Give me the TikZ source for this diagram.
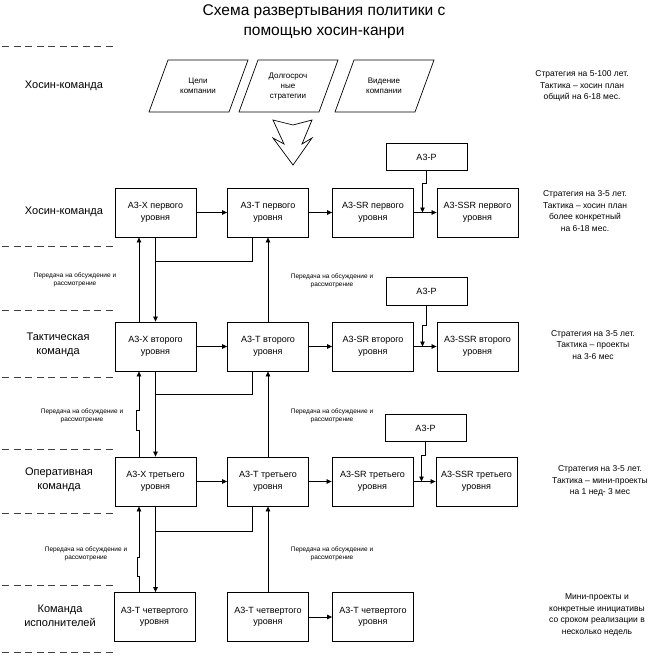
\documentclass[tikz,border=0pt]{standalone}
\usepackage{fontspec}
\setmainfont{Liberation Sans}
\usetikzlibrary{arrows.meta,calc}
\begin{document}
\begin{tikzpicture}[x=1pt,y=-1pt,
  box/.style={draw,line width=0.8pt,minimum width=81pt,minimum height=49pt,inner sep=0pt,align=center,font=\fontsize{9}{11.5}\selectfont},
  pbox/.style={box,minimum height=27.5pt},
  arr/.style={line width=0.7pt,-{Triangle[length=5pt,width=4.5pt]}},
  ln/.style={line width=0.7pt},
  sep/.style={line width=0.8pt,dash pattern=on 7pt off 4.5pt,black!75},
  lab/.style={align=center,font=\fontsize{11}{14}\selectfont},
  note/.style={align=center,font=\fontsize{8.5}{11.5}\selectfont},
  tinylab/.style={align=center,font=\fontsize{6.5}{8.5}\selectfont},
  ptext/.style={align=center,font=\fontsize{8}{10}\selectfont},
  shapeline/.style={line width=0.7pt}]
\useasboundingbox (0,0) rectangle (663,665);

% title
\node[align=center,font=\fontsize{15.5}{20}\selectfont] (title) at (324,22) {Схема развертывания политики с\\помощью хосин-канри};

% separators
\foreach \yy in {46,246,310,377,449,513,585,652}
  \draw[sep] (2,\yy) -- (115,\yy);

% left labels
\node[lab] (l0) at (64,86) {Хосин-команда};
\node[lab] (l1) at (64,212) {Хосин-команда};
\node[lab] (l2) at (58,345) {Тактическая\\команда};
\node[lab] (l3) at (59,480) {Оперативная\\команда};
\node[lab] (l4) at (60,616) {Команда\\исполнителей};

% right notes
\node[note] (n0) at (582,86) {Стратегия на 5-100 лет.\\Тактика – хосин план\\общий на 6-18 мес.};
\node[note] (n1) at (585,211) {Стратегия на 3-5 лет.\\Тактика – хосин план\\более конкретный\\на 6-18 мес.};
\node[note] (n2) at (593,345) {Стратегия на 3-5 лет.\\Тактика – проекты\\на 3-6 мес};
\node[note] (n3) at (600,481) {Стратегия на 3-5 лет.\\Тактика – мини-проекты\\на 1 нед- 3 мес};
\node[note] (n4) at (597,615) {Мини-проекты и\\конкретные инициативы\\со сроком реализации в\\несколько недель};

% small labels
\node[tinylab] (s1) at (75,280) {Передача на обсуждение и\\рассмотрение};
\node[tinylab] (s2) at (82,416) {Передача на обсуждение и\\рассмотрение};
\node[tinylab] (s3) at (86,554) {Передача на обсуждение и\\рассмотрение};
\node[tinylab] (m1) at (332,281) {Передача на обсуждение и\\рассмотрение};
\node[tinylab] (m2) at (332,416) {Передача на обсуждение и\\рассмотрение};
\node[tinylab] (m3) at (332,554) {Передача на обсуждение и\\рассмотрение};

% parallelograms
\draw[shapeline] (149,112) -- (168,60) -- (248,60) -- (229,112) -- cycle;
\draw[shapeline] (239,112) -- (258,60) -- (338,60) -- (319,112) -- cycle;
\draw[shapeline] (335,112) -- (354,60) -- (434,60) -- (415,112) -- cycle;
\node[ptext] (g1) at (198,86) {Цели\\компании};
\node[ptext] (g2) at (288,87) {Долгосроч\\ные\\стратегии};
\node[ptext] (g3) at (384,86) {Видение\\компании};

% big arrow
\draw[shapeline] (273,120) -- (284,144) -- (273,138) -- (293,165) -- (312,138) -- (302,144) -- (312,120) -- (293,125) -- cycle;

% boxes
\node[box] (x1) at (155.5,212.5) {А3-Х первого\\уровня};
\node[box] (t1) at (268,212.5) {А3-Т первого\\уровня};
\node[box] (r1) at (373,212.5) {А3-SR первого\\уровня};
\node[box] (q1) at (477.5,212.5) {А3-SSR первого\\уровня};
\node[pbox] (p1) at (426.5,157) {А3-Р};

\node[box] (x2) at (155.5,346.5) {А3-Х второго\\уровня};
\node[box] (t2) at (268,346.5) {А3-Т второго\\уровня};
\node[box] (r2) at (373,346.5) {А3-SR второго\\уровня};
\node[box] (q2) at (477.5,346.5) {А3-SSR второго\\уровня};
\node[pbox] (p2) at (426.5,291.5) {А3-Р};

\node[box] (x3) at (155.5,481.5) {А3-Х третьего\\уровня};
\node[box] (t3) at (268,481.5) {А3-Т третьего\\уровня};
\node[box] (r3) at (372.5,481.5) {А3-SR третьего\\уровня};
\node[box] (q3) at (476.5,481.5) {А3-SSR третьего\\уровня};
\node[pbox] (p3) at (425.5,428) {А3-Р};

\node[box] (x4) at (154.5,617) {А3-Т четвертого\\уровня};
\node[box] (t4) at (268,617) {А3-Т четвертого\\уровня};
\node[box] (u4) at (373,617) {А3-Т четвертого\\уровня};

% horizontal arrows
\foreach \i in {1,2,3} {
  \draw[arr] (x\i.east) -- (t\i.west);
  \draw[arr] (t\i.east) -- (r\i.west);
  \draw[arr] (r\i.east) -- (q\i.west);
}
\draw[arr] (t4.east) -- (u4.west);

% A3-P connectors
\coordinate (p1j) at ($(p1.south)+(-4,0)$);
\coordinate (p2j) at ($(p2.south)+(-4,0)$);
\coordinate (p3j) at ($(p3.south)+(-4,0)$);
\draw[arr] (p1.south) -- ++(0,12) -| (p1j |- r1.east);
\draw[arr] (p2.south) -- ++(0,20) -| (p2j |- r2.east);
\draw[arr] (p3.south) -- ++(0,13) -| (p3j |- r3.east);

% level 1-2
\draw[arr] ([xshift=-16.5pt]x2.north) -- ([xshift=-16.5pt]x1.south);
\draw[arr] (x1.south) -- (x2.north);
\draw[ln] ([xshift=-16pt]t1.south) |- ($(x1.south)+(0,24)$);
\draw[arr] (t2.north) -- (t1.south);

% level 2-3
\draw[arr] ([xshift=-16.5pt]x3.north) -- ++(0,-26) -- ++(-3,0) -- ++(0,-20) -- ++(3,0) -- ([xshift=-16.5pt]x2.south);
\draw[arr] (x2.south) -- (x3.north);
\draw[ln] ([xshift=-16pt]t2.south) |- ($(x2.south)+(0,23)$);
\draw[arr] (t3.north) -- (t2.south);

% level 3-4
\draw[arr] ([xshift=-15.5pt]x4.north) -- ++(0,-16) -- ++(-2,0) -- ++(0,-19) -- ++(2,0) -- ([xshift=-15.5pt]x4.north |- x3.south);
\draw[arr] (x3.south) -- (x3.south |- x4.north);
\draw[ln] ([xshift=-16pt]t3.south) |- ($(x3.south)+(0,25)$);
\draw[arr] (t4.north) -- (t3.south);
\end{tikzpicture}
\end{document}
